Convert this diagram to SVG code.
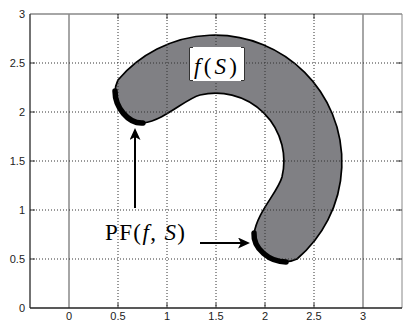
<svg xmlns="http://www.w3.org/2000/svg" width="403" height="321" viewBox="0 0 403 321">
<defs>
<style>
.tick{font-family:"Liberation Sans",Arial,sans-serif;font-size:11px;fill:#222}
.grid{stroke:#333;stroke-width:1;stroke-dasharray:1 2;fill:none}
.solid{stroke:#888;stroke-width:1.5;fill:none}
.tk{stroke:#333;stroke-width:1;fill:none}
.math{font-family:"Liberation Serif","DejaVu Serif",serif;font-size:23px;fill:#000}
.arrow{stroke:#000;stroke-width:2;fill:none;marker-end:url(#ah)}
.pf{stroke:#000;stroke-width:5.5;fill:none;stroke-linecap:round}
</style>
<marker id="ah" markerUnits="userSpaceOnUse" markerWidth="14" markerHeight="12" refX="6" refY="5.5" orient="auto">
<path d="M0,0 L12,5.5 L0,11 L3,5.5 Z" fill="#000"/>
</marker>
</defs>
<rect width="403" height="321" fill="#fff"/>
<g id="axes">
<line x1="69" y1="14" x2="69" y2="308" class="solid"/>
<line x1="363" y1="14" x2="363" y2="308" class="solid"/>
<line x1="30" y1="14" x2="402" y2="14" stroke="#888" stroke-width="1.5"/>
<line x1="402" y1="14" x2="402" y2="308" stroke="#888" stroke-width="1"/>
<line x1="30" y1="14" x2="30" y2="308" stroke="#444" stroke-width="1.5"/>
<line x1="30" y1="308" x2="402" y2="308" stroke="#222" stroke-width="1.5"/>
<path class="tk" d="M30 63h5M30 112h5M30 161h5M30 210h5M30 259h5M402 63h-5M402 112h-5M402 161h-5M402 210h-5M402 259h-5M118 308v-5M167 308v-5M216 308v-5M265 308v-5M314 308v-5M118 14v5M167 14v5M216 14v5M265 14v5M314 14v5"/>
<g class="tick" text-anchor="end">
<text x="25" y="18">3</text>
<text x="25" y="67">2.5</text>
<text x="25" y="116">2</text>
<text x="25" y="165">1.5</text>
<text x="25" y="214">1</text>
<text x="25" y="263">0.5</text>
<text x="25" y="312">0</text>
</g>
<g class="tick" text-anchor="middle">
<text x="69" y="320">0</text>
<text x="118" y="320">0.5</text>
<text x="167" y="320">1</text>
<text x="216" y="320">1.5</text>
<text x="265" y="320">2</text>
<text x="314" y="320">2.5</text>
<text x="363" y="320">3</text>
</g>
</g>
<g id="fS-region">
<path d="M118 80 A127 127 0 1 1 297 259 C293 261,289 262,284 262 C269 262,253 249,254 234 C257 212,278 192,282 177 A68 68 0 0 0 200 95 C185 99,165 120,143 123 C128 124,115 108,115 93 C115 88,116 84,118 80 Z" fill="#808084" stroke="#000" stroke-width="1.7"/>
</g>
<g id="grid">
<path class="grid" d="M30 63H402M30 112H402M30 161H402M30 210H402M30 259H402M118 14V308M167 14V308M216 14V308M265 14V308M314 14V308"/>
</g>
<g id="pareto-front">
<path class="pf" d="M115 91 C115 107,128 124,143 123"/>
<path class="pf" d="M286 262 C270 262,253 249,254 233"/>
</g>
<g id="label-fS">
<rect x="189" y="47" width="56" height="34" fill="#fff"/>
<path d="M193 47.5H189.5V80.5H193M241 47.5H244.5V80.5H241" stroke="#333" stroke-width="1" fill="none"/>
<text x="194" y="74" class="math" textLength="43" lengthAdjust="spacing"><tspan font-style="italic">f</tspan>(<tspan font-style="italic">S</tspan>)</text>
</g>
<g id="label-PF">
<text x="105" y="240" class="math" font-size="24" textLength="80" lengthAdjust="spacing">PF(<tspan font-style="italic">f</tspan>, <tspan font-style="italic">S</tspan>)</text>
</g>
<g id="connectors">
<line x1="135" y1="208" x2="135" y2="134" class="arrow"/>
<line x1="200" y1="243" x2="244" y2="243" class="arrow"/>
</g>
</svg>
